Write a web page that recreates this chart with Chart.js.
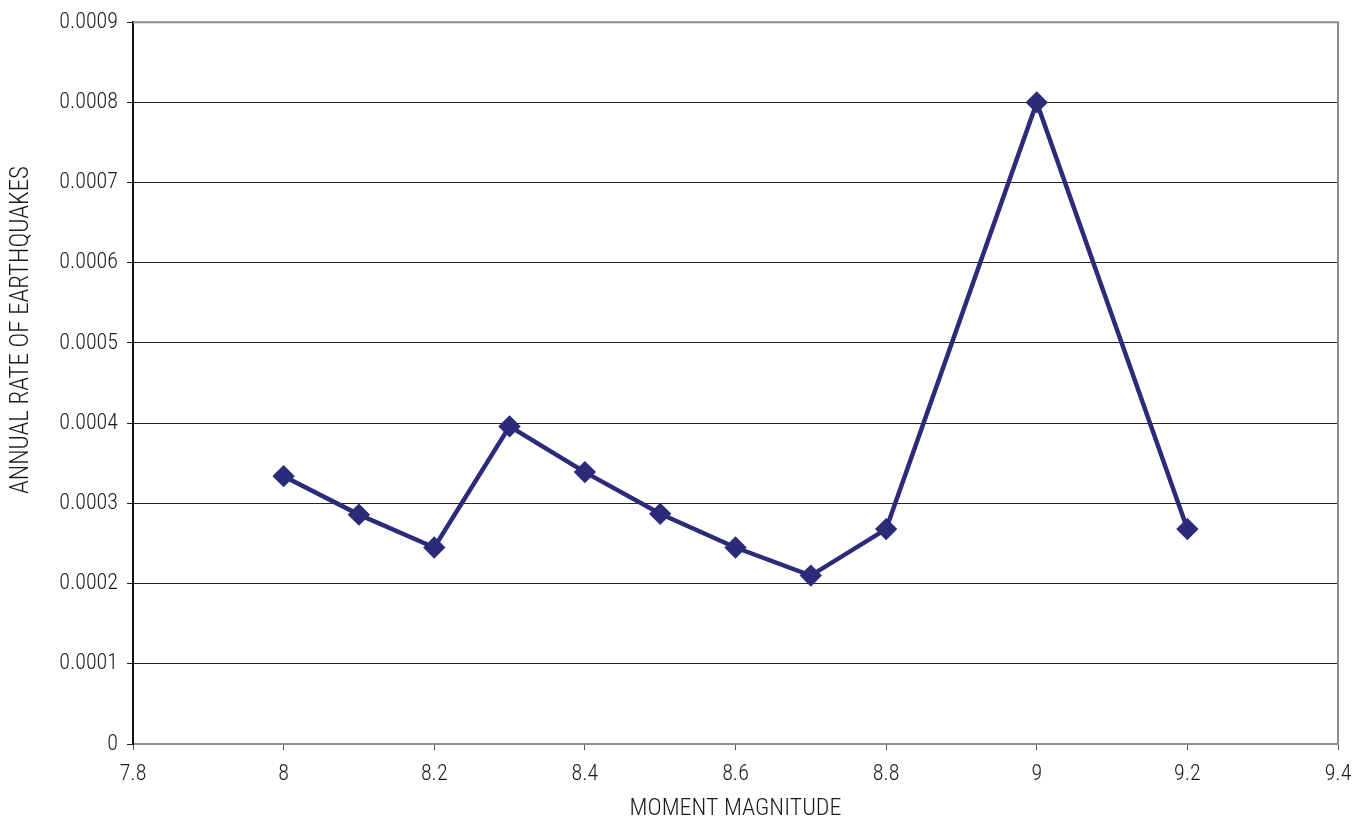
<!DOCTYPE html>
<html>
<head>
<meta charset="utf-8">
<script src="https://cdn.jsdelivr.net/npm/chart.js@4"></script>
<style>
  html, body { margin: 0; padding: 0; background: #fff; }
  #wrap { width: 1370px; height: 822px; }
</style>
</head>
<body>
<div id="wrap"><canvas id="chart"></canvas></div>
<script>
// magnitudes and rates
const magnitudes = [8.0, 8.1, 8.2, 8.3, 8.4, 8.5, 8.6, 8.7, 8.8, 9.0, 9.2];
const rates = [0.000334, 0.000286, 0.000245, 0.000396, 0.000339, 0.000287, 0.000245, 0.00021, 0.000268, 0.0008, 0.000268];

const xTitle = 'MOMENT MAGNITUDE';
const yTitle = 'ANNUAL RATE OF EARTHQUAKES';

const FONT = "'Roboto Condensed', 'Liberation Sans Narrow', sans-serif";
const LINE_COLOR = '#2b2b7a';
const TEXT_COLOR = '#1a1a1a';

// gray frame on top and right of the plot area, plus the y title
// (the original title sits a bit above the middle of the axis)
const frame = {
  id: 'frame',
  afterDraw(chart) {
    const { ctx, chartArea: a } = chart;
    ctx.save();
    ctx.strokeStyle = '#8c8c8c';
    ctx.lineWidth = 2;
    ctx.beginPath();
    ctx.moveTo(a.left, a.top);
    ctx.lineTo(a.right, a.top);
    ctx.lineTo(a.right, a.bottom);
    ctx.stroke();

    ctx.translate(22, 330);
    ctx.rotate(-Math.PI / 2);
    ctx.font = "300 25px " + FONT;
    ctx.fillStyle = TEXT_COLOR;
    ctx.textAlign = 'center';
    ctx.textBaseline = 'middle';
    ctx.fillText(yTitle, 0, 0);
    ctx.restore();
  }
};

new Chart(document.getElementById('chart'), {
  type: 'scatter',
  data: {
    datasets: [{
      data: magnitudes.map((m, i) => ({ x: m, y: rates[i] })),
      showLine: true,
      borderColor: LINE_COLOR,
      backgroundColor: LINE_COLOR,
      borderWidth: 4.5,
      pointStyle: 'rectRot',
      pointRadius: 8,
      pointHoverRadius: 8,
      tension: 0
    }]
  },
  options: {
    responsive: true,
    maintainAspectRatio: false,
    animation: false,
    layout: { padding: { top: 15, right: 32, left: 0, bottom: 0 } },
    plugins: { legend: { display: false }, tooltip: { enabled: false } },
    scales: {
      x: {
        type: 'linear',
        min: 7.8,
        max: 9.4,
        afterFit: s => { s.height = 78; },
        ticks: {
          stepSize: 0.2,
          color: TEXT_COLOR,
          font: { family: FONT, size: 22, weight: 300 },
          padding: 11,
          maxRotation: 0,
          callback: v => +v.toFixed(1)
        },
        grid: { drawOnChartArea: false, drawTicks: true, tickLength: 6, color: '#555' },
        border: { color: '#8c8c8c', width: 2 },
        title: { display: true, text: xTitle, color: TEXT_COLOR, font: { family: FONT, size: 24, weight: 300 }, padding: { top: 0, bottom: -1 } }
      },
      y: {
        min: 0,
        max: 0.0009,
        afterFit: s => { s.width = 133; },
        ticks: {
          stepSize: 0.0001,
          color: TEXT_COLOR,
          font: { family: FONT, size: 22, weight: 300 },
          padding: 9,
          callback: v => v === 0 ? '0' : v.toFixed(4)
        },
        grid: { color: '#222', lineWidth: 1, tickLength: 6 },
        border: { color: '#111', width: 2 },
        title: { display: false }
      }
    }
  },
  plugins: [frame]
});
</script>
</body>
</html>
